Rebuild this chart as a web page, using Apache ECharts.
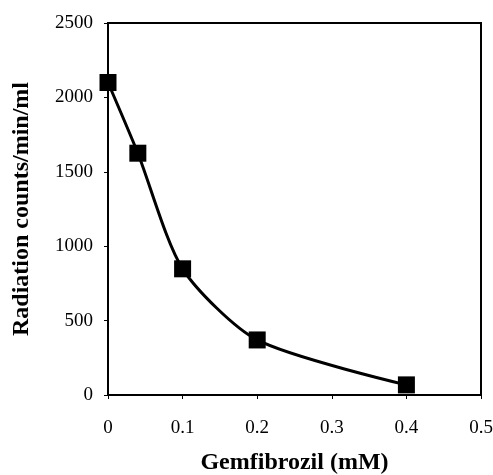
<!DOCTYPE html>
<html lang="en">
<head>
    <meta charset="UTF-8">
    <title>Gemfibrozil</title>
    <style>
        body { margin: 0; background: #fff; }
        #chart { width: 493px; height: 475px; }
    </style>
    <script src="https://cdn.jsdelivr.net/npm/echarts/dist/echarts.min.js"></script>
</head>
<body>
    <div id="chart"></div>
    <script>
        // concentrations (mM) and counts
        var conc = [0, 0.04, 0.1, 0.2, 0.4];
        var counts = [2100, 1625, 848, 370, 68];
        var xTicks = [0, 0.1, 0.2, 0.3, 0.4, 0.5];
        var yTicks = [0, 500, 1000, 1500, 2000, 2500];

        var font = '"Liberation Serif", "Times New Roman", serif';
        var chart = echarts.init(document.getElementById('chart'));

        chart.setOption({
            animation: false,
            grid: {
                left: 108, top: 23, right: 12, bottom: 80,
                outerBoundsMode: 'none',
                show: true, borderColor: '#000', borderWidth: 2
            },
            xAxis: {
                type: 'value',
                min: xTicks[0], max: xTicks[xTicks.length - 1], interval: 0.1,
                name: 'Gemfibrozil (mM)',
                nameLocation: 'middle', nameGap: 56,
                nameTextStyle: { fontFamily: font, fontWeight: 'bold', fontSize: 24, color: '#000' },
                axisLine: { lineStyle: { color: '#000', width: 2 } },
                axisTick: { show: true, length: 4, lineStyle: { color: '#000' } },
                axisLabel: { fontFamily: font, fontSize: 19, color: '#000', margin: 24,
                    formatter: function (v) { return String(+v.toFixed(1)); } },
                splitLine: { show: false }
            },
            yAxis: {
                type: 'value',
                min: yTicks[0], max: yTicks[yTicks.length - 1], interval: 500,
                name: 'Radiation counts/min/ml',
                nameLocation: 'middle', nameGap: 74,
                nameTextStyle: { fontFamily: font, fontWeight: 'bold', fontSize: 24, color: '#000' },
                axisLine: { lineStyle: { color: '#000', width: 2 } },
                axisTick: { show: true, length: 4, lineStyle: { color: '#000' } },
                axisLabel: { fontFamily: font, fontSize: 19, color: '#000', margin: 15,
                    formatter: function (v) { return String(v); } },
                splitLine: { show: false }
            },
            series: [{
                type: 'line',
                data: conc.map(function (c, i) { return [c, counts[i]]; }),
                smooth: 0.25,
                symbol: 'rect',
                symbolSize: 17,
                itemStyle: { color: '#000' },
                lineStyle: { color: '#000', width: 3 }
            }]
        });
    </script>
</body>
</html>
